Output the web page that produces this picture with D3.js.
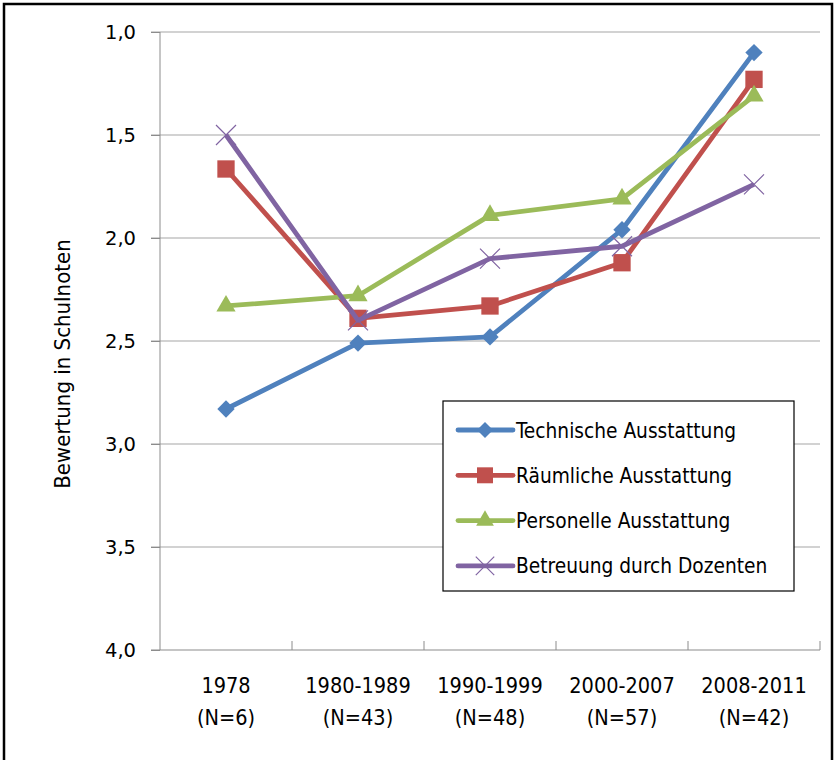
<!DOCTYPE html>
<html>
<head>
<meta charset="utf-8">
<script src="https://cdn.jsdelivr.net/npm/d3@7"></script>
<style>
	body { margin: 0; background: #fff; }
	svg { display: block; }
</style>
</head>
<body>
<svg id="chart" width="835" height="760" viewBox="0 0 835 760"></svg>
<script>

// values (school grades, 1 = best)
const categories = ["1978", "1980-1989", "1990-1999", "2000-2007", "2008-2011"];
const sample_sizes = ["(N=6)", "(N=43)", "(N=48)", "(N=57)", "(N=42)"];
const series_names = ["Technische Ausstattung", "Räumliche Ausstattung", "Personelle Ausstattung", "Betreuung durch Dozenten"];
const technische = [2.83, 2.51, 2.48, 1.96, 1.10];
const raeumliche = [1.665, 2.39, 2.33, 2.12, 1.23];
const personelle = [2.33, 2.28, 1.89, 1.81, 1.31];
const betreuung = [1.50, 2.40, 2.10, 2.04, 1.74];
const y_ticks = [1.0, 1.5, 2.0, 2.5, 3.0, 3.5, 4.0];

class GradeChart {

	constructor(svg_element_id) {
		this.svg = d3.select('#' + svg_element_id);

		const margin = {left: 160, right: 820, top: 32, bottom: 650};

		const x_scale = d3.scaleBand()
			.domain(categories)
			.range([margin.left, margin.right])
			.padding(0);

		const y_scale = d3.scaleLinear()
			.domain([1, 4])
			.range([margin.top, margin.bottom]);

		const colors = ["#4F81BD", "#C0504D", "#9BBB59", "#8064A2"];
		const all_values = [technische, raeumliche, personelle, betreuung];

		const markers = [
			{type: d3.symbolSquare, size: 150, rotate: 45, filled: true},
			{type: d3.symbolSquare, size: 300, rotate: 0, filled: true},
			{type: d3.symbolTriangle, size: 160, rotate: 0, filled: true},
			{type: d3.symbolX, size: 263, rotate: 0, filled: false}
		];

		// outer frame
		this.svg.append("rect")
			.attr("x", 4).attr("y", 4)
			.attr("width", 828).attr("height", 800)
			.style("fill", "none")
			.style("stroke", "#000")
			.style("stroke-width", 2.5);

		// horizontal grid
		this.svg.append("g")
			.selectAll("line")
			.data(y_ticks.slice(0, -1))
			.enter().append("line")
			.attr("x1", 151).attr("x2", margin.right)
			.attr("y1", d => y_scale(d)).attr("y2", d => y_scale(d))
			.style("stroke", "#a6a6a6")
			.style("stroke-width", 1.2);

		// y axis
		const y_axis = d3.axisLeft(y_scale)
			.tickValues(y_ticks)
			.tickFormat(d => d3.format(".1f")(d).replace(".", ","))
			.tickSize(9)
			.tickPadding(15);

		const y_g = this.svg.append("g")
			.attr("transform", "translate(" + margin.left + ",0)")
			.call(y_axis);
		y_g.select(".domain").style("stroke", "#8c8c8c").attr("d", "M0," + margin.top + "V" + margin.bottom);
		y_g.selectAll(".tick line").style("stroke", "#8c8c8c");
		y_g.selectAll(".tick text")
			.style("font-family", "'DejaVu Sans', sans-serif")
			.style("font-size", "19.5px")
			.style("fill", "#000");

		// x axis, ticks at the band edges pointing up
		const x_g = this.svg.append("g");
		x_g.append("line")
			.attr("x1", 151).attr("x2", margin.right)
			.attr("y1", margin.bottom).attr("y2", margin.bottom)
			.style("stroke", "#8c8c8c")
			.style("stroke-width", 1.2);
		x_g.selectAll(".xtick")
			.data(categories.slice(1).concat(["end"]))
			.enter().append("line")
			.attr("x1", (d, i) => i < categories.length - 1 ? x_scale(d) : margin.right)
			.attr("x2", (d, i) => i < categories.length - 1 ? x_scale(d) : margin.right)
			.attr("y1", margin.bottom).attr("y2", margin.bottom - 9)
			.style("stroke", "#8c8c8c");

		const label_g = x_g.selectAll(".xlabel")
			.data(categories)
			.enter().append("text")
			.attr("text-anchor", "middle")
			.style("font-family", "'DejaVu Sans Condensed', 'Liberation Sans Narrow', sans-serif")
			.style("font-size", "21.5px")
			.style("fill", "#000");
		label_g.append("tspan")
			.attr("x", d => x_scale(d) + x_scale.bandwidth() / 2)
			.attr("y", 693)
			.text(d => d);
		label_g.append("tspan")
			.attr("x", d => x_scale(d) + x_scale.bandwidth() / 2)
			.attr("y", 725)
			.text((d, i) => sample_sizes[i]);

		// y axis title
		this.svg.append("text")
			.attr("transform", "translate(70," + 364 + ") rotate(-90)")
			.attr("text-anchor", "middle")
			.style("font-family", "'DejaVu Sans Condensed', sans-serif")
			.style("font-size", "22px")
			.text("Bewertung in Schulnoten");

		// series
		const line_gen = d3.line()
			.x((d, i) => x_scale(categories[i]) + x_scale.bandwidth() / 2)
			.y(d => y_scale(d));

		all_values.forEach((values, s) => {
			const g = this.svg.append("g").classed("series", true);
			g.append("path")
				.datum(values)
				.attr("d", line_gen)
				.style("fill", "none")
				.style("stroke", colors[s])
				.style("stroke-width", 4.8)
				.style("stroke-linejoin", "round");

			const m = markers[s];
			g.selectAll(".marker")
				.data(values)
				.enter().append("path")
				.attr("d", d3.symbol().type(m.type).size(m.size))
				.attr("transform", (d, i) => "translate(" + (x_scale(categories[i]) + x_scale.bandwidth() / 2) + "," + y_scale(d) + ") rotate(" + m.rotate + ")")
				.style("fill", m.filled ? colors[s] : "none")
				.style("stroke", colors[s])
				.style("stroke-width", m.filled ? 0 : 1.2);
		});

		// legend
		const legend = this.svg.append("g").attr("transform", "translate(443,401)");
		legend.append("rect")
			.attr("width", 351).attr("height", 190)
			.style("fill", "#fff")
			.style("stroke", "#000")
			.style("stroke-width", 1.2);

		const rows = legend.selectAll(".legend-row")
			.data(series_names)
			.enter().append("g")
			.attr("transform", (d, i) => "translate(0," + (29 + i * 45.3) + ")");

		rows.append("line")
			.attr("x1", 15).attr("x2", 70)
			.attr("y1", 0).attr("y2", 0)
			.style("stroke", (d, i) => colors[i])
			.style("stroke-width", 4.8)
			.style("stroke-linecap", "round");

		rows.append("path")
			.attr("d", (d, i) => d3.symbol().type(markers[i].type).size(markers[i].size * 0.85)())
			.attr("transform", (d, i) => "translate(42,0) rotate(" + markers[i].rotate + ")")
			.style("fill", (d, i) => markers[i].filled ? colors[i] : "none")
			.style("stroke", (d, i) => colors[i])
			.style("stroke-width", (d, i) => markers[i].filled ? 0 : 1.2);

		rows.append("text")
			.attr("x", 73)
			.attr("y", 7.5)
			.style("font-family", "'DejaVu Sans Condensed', sans-serif")
			.style("font-size", "20.7px")
			.text(d => d);
	}
}

function whenDocumentLoaded(action) {
	if (document.readyState === "loading") {
		document.addEventListener("DOMContentLoaded", action);
	} else {
		action();
	}
}

whenDocumentLoaded(() => {
	plot_object = new GradeChart('chart');
});
</script>
</body>
</html>
